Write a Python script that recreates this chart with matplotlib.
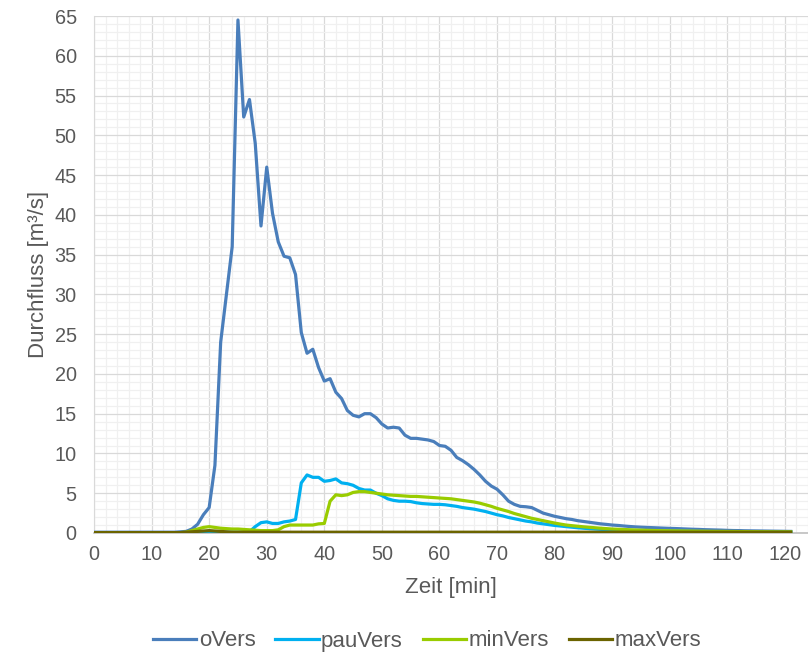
import numpy as np
import matplotlib
matplotlib.use("Agg")
import matplotlib.pyplot as plt
from matplotlib.ticker import MultipleLocator

plt.rcParams['font.family'] = ['Liberation Sans', 'DejaVu Sans']

# Durchfluss [m³/s], one value per minute (t = 0 ... 121)
o_vers = [
    0.1, 0.1, 0.1, 0.1, 0.1, 0.1, 0.1, 0.1, 0.1, 0.1,
    0.1, 0.1, 0.1, 0.1, 0.1, 0.15, 0.2, 0.5, 1.1, 2.3,
    3.2, 8.5, 24.0, 30.0, 36.0, 64.5, 52.3, 54.5, 49.0, 38.6,
    46.0, 40.2, 36.6, 34.8, 34.6, 32.5, 25.2, 22.6, 23.1, 20.8,
    19.1, 19.4, 17.7, 16.9, 15.4, 14.8, 14.6, 15.0, 15.0, 14.5,
    13.7, 13.2, 13.3, 13.2, 12.3, 11.9, 11.9, 11.8, 11.7, 11.5,
    11.0, 10.9, 10.4, 9.5, 9.1, 8.6, 8.0, 7.3, 6.5, 5.9,
    5.5, 4.8, 4.0, 3.6, 3.35, 3.3, 3.2, 2.85, 2.5, 2.3,
    2.1, 1.95, 1.8, 1.7, 1.55, 1.45, 1.35, 1.25, 1.15, 1.08,
    1.0, 0.95, 0.88, 0.82, 0.77, 0.73, 0.7, 0.67, 0.64, 0.61,
    0.58, 0.56, 0.53, 0.5, 0.47, 0.45, 0.42, 0.4, 0.38, 0.36,
    0.33, 0.31, 0.3, 0.28, 0.27, 0.26, 0.25, 0.24, 0.23, 0.22,
    0.21, 0.2,
]
pau_vers = [
    0.05, 0.05, 0.05, 0.05, 0.05, 0.05, 0.05, 0.05, 0.05, 0.05,
    0.05, 0.05, 0.05, 0.05, 0.05, 0.05, 0.05, 0.05, 0.05, 0.05,
    0.1, 0.1, 0.1, 0.1, 0.1, 0.1, 0.1, 0.15, 0.8, 1.3,
    1.4, 1.2, 1.2, 1.4, 1.5, 1.7, 6.3, 7.3, 7.0, 7.0,
    6.5, 6.6, 6.8, 6.3, 6.2, 6.0, 5.6, 5.4, 5.4, 5.0,
    4.7, 4.3, 4.1, 4.0, 4.0, 3.95, 3.8, 3.7, 3.65, 3.6,
    3.6, 3.55, 3.45, 3.35, 3.2, 3.1, 3.0, 2.85, 2.7, 2.5,
    2.3, 2.15, 1.95, 1.8, 1.65, 1.5, 1.4, 1.25, 1.15, 1.05,
    0.95, 0.88, 0.8, 0.73, 0.66, 0.6, 0.55, 0.5, 0.46, 0.42,
    0.39, 0.36, 0.34, 0.32, 0.3, 0.28, 0.27, 0.26, 0.25, 0.24,
    0.23, 0.22, 0.21, 0.2, 0.19, 0.18, 0.18, 0.17, 0.17, 0.16,
    0.16, 0.15, 0.15, 0.15, 0.14, 0.14, 0.14, 0.13, 0.13, 0.13,
    0.12, 0.12,
]
min_vers = [
    0.05, 0.05, 0.05, 0.05, 0.05, 0.05, 0.05, 0.05, 0.05, 0.05,
    0.05, 0.05, 0.05, 0.05, 0.05, 0.05, 0.1, 0.3, 0.5, 0.7,
    0.8, 0.7, 0.6, 0.55, 0.5, 0.5, 0.45, 0.4, 0.35, 0.3,
    0.3, 0.3, 0.4, 0.8, 1.0, 1.0, 1.0, 1.0, 1.0, 1.15,
    1.2, 4.0, 4.8, 4.7, 4.8, 5.1, 5.2, 5.2, 5.1, 5.0,
    4.9, 4.8, 4.75, 4.7, 4.65, 4.6, 4.6, 4.55, 4.5, 4.45,
    4.4, 4.35, 4.3, 4.2, 4.1, 4.0, 3.9, 3.75, 3.55, 3.35,
    3.1, 2.9, 2.7, 2.45, 2.25, 2.05, 1.85, 1.7, 1.55, 1.4,
    1.25, 1.12, 1.0, 0.92, 0.85, 0.78, 0.72, 0.66, 0.6, 0.55,
    0.5, 0.47, 0.44, 0.41, 0.38, 0.36, 0.34, 0.32, 0.3, 0.29,
    0.28, 0.27, 0.26, 0.25, 0.24, 0.23, 0.22, 0.21, 0.2, 0.2,
    0.19, 0.19, 0.18, 0.18, 0.17, 0.17, 0.16, 0.16, 0.15, 0.15,
    0.15, 0.15,
]
max_vers = [
    0.05, 0.05, 0.05, 0.05, 0.05, 0.05, 0.05, 0.05, 0.05, 0.05,
    0.05, 0.05, 0.05, 0.05, 0.05, 0.05, 0.1, 0.15, 0.2, 0.25,
    0.3, 0.25, 0.2, 0.15, 0.1, 0.1, 0.1, 0.1, 0.1, 0.1,
    0.1, 0.1, 0.1, 0.1, 0.1, 0.1, 0.1, 0.1, 0.1, 0.1,
    0.1, 0.1, 0.1, 0.1, 0.1, 0.1, 0.1, 0.1, 0.1, 0.1,
    0.1, 0.1, 0.1, 0.1, 0.1, 0.1, 0.1, 0.1, 0.1, 0.1,
    0.1, 0.1, 0.1, 0.1, 0.1, 0.1, 0.1, 0.1, 0.1, 0.1,
    0.1, 0.1, 0.1, 0.1, 0.1, 0.1, 0.1, 0.1, 0.1, 0.1,
    0.1, 0.1, 0.1, 0.1, 0.1, 0.1, 0.1, 0.1, 0.1, 0.1,
    0.1, 0.1, 0.1, 0.1, 0.1, 0.1, 0.1, 0.1, 0.1, 0.1,
    0.1, 0.1, 0.1, 0.1, 0.1, 0.1, 0.1, 0.1, 0.1, 0.1,
    0.1, 0.1, 0.1, 0.1, 0.1, 0.1, 0.1, 0.1, 0.1, 0.1,
    0.1, 0.1,
]
zeit = np.arange(len(o_vers))

series = [
    ('oVers', o_vers, '#4a7ebb'),
    ('pauVers', pau_vers, '#00b0f0'),
    ('minVers', min_vers, '#99cc00'),
    ('maxVers', max_vers, '#6b6400'),
]

text_col = '#595959'

fig = plt.figure(figsize=(8.08, 6.52), dpi=100)
ax = fig.add_axes([94 / 808, 119 / 652, 714 / 808, 517 / 652])

for name, vals, col in series:
    ax.plot(zeit, vals, color=col, lw=2.3, label=name, solid_joinstyle='round', zorder=3)

ax.set_xlim(0, 124)
ax.set_ylim(0, 65)
ax.xaxis.set_major_locator(MultipleLocator(10))
ax.xaxis.set_minor_locator(MultipleLocator(2))
ax.yaxis.set_major_locator(MultipleLocator(5))
ax.yaxis.set_minor_locator(MultipleLocator(1))
ax.grid(which='minor', color='#f0f0f0', lw=0.9, zorder=0)
ax.grid(which='major', color='#d9d9d9', lw=0.9, zorder=1)
ax.set_axisbelow(True)

ax.tick_params(which='both', length=0)
ax.tick_params(axis='x', pad=9, labelsize=14.3, colors=text_col)
ax.tick_params(axis='y', pad=12.5, labelsize=14.3, colors=text_col)

for s in ['top', 'right']:
    ax.spines[s].set_visible(False)
ax.spines['left'].set_color('#d9d9d9')
ax.spines['bottom'].set_color('#bfbfbf')
ax.spines['bottom'].set_linewidth(1.2)

ax.set_xlabel('Zeit [min]', fontsize=16, color=text_col)
ax.xaxis.set_label_coords(0.5, (533 - 587) / 517)
ax.xaxis.label.set_va('center')
ax.set_ylabel('Durchfluss [m³/s]', fontsize=16, color=text_col)
ax.yaxis.set_label_coords((39 - 94) / 714, 0.5)
ax.yaxis.label.set_va('center')

fig.legend(loc='center', bbox_to_anchor=(427 / 808, 11 / 652), ncol=4, frameon=False,
           fontsize=16, labelcolor=text_col, handlelength=1.95, handletextpad=0.1,
           columnspacing=0.9)

fig.savefig('out.png', dpi=100)
